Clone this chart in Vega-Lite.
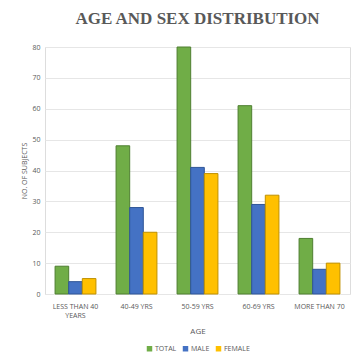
{
  "$schema": "https://vega.github.io/schema/vega-lite/v6.json",
  "autosize": {"type": "none"},
  "padding": {"left": 45, "top": 47, "right": 12, "bottom": 67},
  "width": 305,
  "height": 247,
  "background": "white",
  "config": {"legend": {"layout": {"bottom": {"anchor": "middle"}}}},
  "title": {
    "text": "AGE AND SEX DISTRIBUTION",
    "font": "Liberation Serif",
    "fontSize": 17,
    "fontWeight": "bold",
    "color": "#595959",
    "anchor": "middle",
    "offset": 15
  },
  "data": {
    "values": [
      {"age": "LESS THAN 40 YEARS", "sex": "TOTAL", "value": 9},
      {"age": "LESS THAN 40 YEARS", "sex": "MALE", "value": 4},
      {"age": "LESS THAN 40 YEARS", "sex": "FEMALE", "value": 5},
      {"age": "40-49 YRS", "sex": "TOTAL", "value": 48},
      {"age": "40-49 YRS", "sex": "MALE", "value": 28},
      {"age": "40-49 YRS", "sex": "FEMALE", "value": 20},
      {"age": "50-59 YRS", "sex": "TOTAL", "value": 80},
      {"age": "50-59 YRS", "sex": "MALE", "value": 41},
      {"age": "50-59 YRS", "sex": "FEMALE", "value": 39},
      {"age": "60-69 YRS", "sex": "TOTAL", "value": 61},
      {"age": "60-69 YRS", "sex": "MALE", "value": 29},
      {"age": "60-69 YRS", "sex": "FEMALE", "value": 32},
      {"age": "MORE THAN 70", "sex": "TOTAL", "value": 18},
      {"age": "MORE THAN 70", "sex": "MALE", "value": 8},
      {"age": "MORE THAN 70", "sex": "FEMALE", "value": 10}
    ]
  },
  "mark": {"type": "bar", "strokeWidth": 1},
  "encoding": {
    "x": {
      "field": "age",
      "type": "nominal",
      "sort": ["LESS THAN 40 YEARS", "40-49 YRS", "50-59 YRS", "60-69 YRS", "MORE THAN 70"],
      "scale": {"paddingInner": 0.33, "paddingOuter": 0.165},
      "axis": {
        "title": "AGE",
        "titleFont": "Open Sans",
        "titleFontSize": 8,
        "titleFontWeight": "normal",
        "titleColor": "#595959",
        "titlePadding": 9,
        "labelAngle": 0,
        "labelFont": "Open Sans",
        "labelFontSize": 7,
        "labelColor": "#595959",
        "labelPadding": 8,
        "labelExpr": "datum.label == 'LESS THAN 40 YEARS' ? ['LESS THAN 40', 'YEARS'] : datum.label",
        "ticks": false,
        "domain": false,
        "grid": false
      }
    },
    "xOffset": {
      "field": "sex",
      "type": "nominal",
      "sort": ["TOTAL", "MALE", "FEMALE"],
      "scale": {"paddingInner": 0}
    },
    "y": {
      "field": "value",
      "type": "quantitative",
      "scale": {"domain": [0, 80]},
      "axis": {
        "title": "NO. OF SUBJECTS",
        "titleFont": "Open Sans",
        "titleFontSize": 7,
        "titleFontWeight": "normal",
        "titleColor": "#595959",
        "titlePadding": 4,
        "labelFont": "Open Sans",
        "labelFontSize": 7,
        "labelColor": "#595959",
        "labelPadding": 5,
        "labelOverlap": false,
        "values": [0, 10, 20, 30, 40, 50, 60, 70, 80],
        "ticks": false,
        "domain": false,
        "gridColor": "#e6e6e6",
        "gridWidth": 1
      }
    },
    "color": {
      "field": "sex",
      "type": "nominal",
      "sort": ["TOTAL", "MALE", "FEMALE"],
      "scale": {"domain": ["TOTAL", "MALE", "FEMALE"], "range": ["#70AD47", "#4472C4", "#FFC000"]},
      "legend": {
        "title": null,
        "orient": "bottom",
        "direction": "horizontal",
        "symbolType": "square",
        "symbolSize": 30,
        "symbolStrokeWidth": 0,
        "labelFont": "Open Sans",
        "labelFontSize": 7,
        "labelColor": "#595959",
        "labelOffset": 2,
        "columnPadding": 5,
        "offset": 10
      }
    },
    "stroke": {
      "field": "sex",
      "type": "nominal",
      "scale": {"domain": ["TOTAL", "MALE", "FEMALE"], "range": ["#4E7F31", "#2F5597", "#BF9000"]},
      "legend": null
    }
  }
}
